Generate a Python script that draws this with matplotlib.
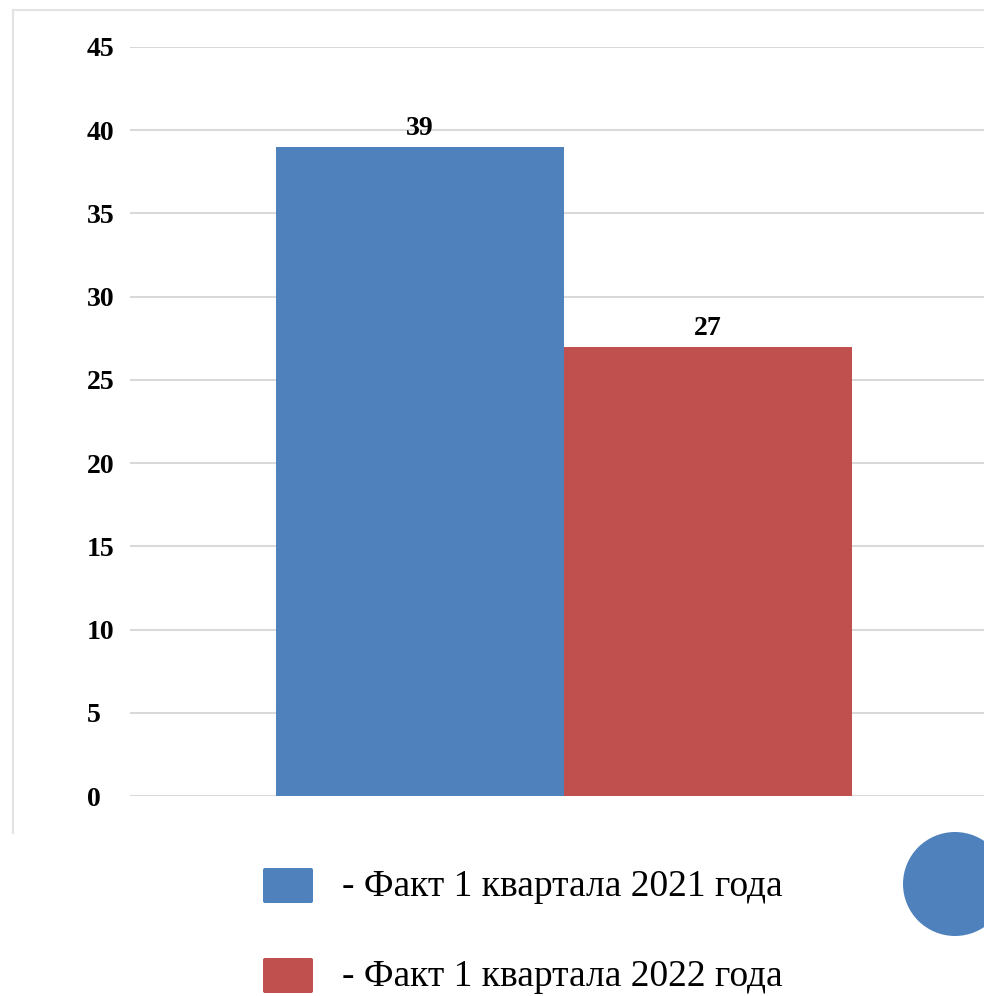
import matplotlib
matplotlib.use('Agg')
import matplotlib.pyplot as plt
from matplotlib.patches import Circle, FancyBboxPatch
from matplotlib.lines import Line2D

series = ['- Факт 1 квартала 2021 года', '- Факт 1 квартала 2022 года']
values = [39, 27]
colors = ['#4F81BD', '#C0504D']
yticks = [0, 5, 10, 15, 20, 25, 30, 35, 40, 45]

plt.rcParams['font.family'] = ['Liberation Serif', 'DejaVu Serif']

fig = plt.figure(figsize=(9.84, 9.96), dpi=100)
W, H = 984, 996

# light frame around the chart area (left and top edges)
fig.add_artist(Line2D([13 / W, 13 / W], [1 - 10 / H, 1 - 833 / H], color='#e3e3e3', lw=1.5))
fig.add_artist(Line2D([13 / W, 1], [1 - 10 / H, 1 - 10 / H], color='#e3e3e3', lw=1.5))

ax = fig.add_axes([130 / W, 1 - 796 / H, 1 - 130 / W, (796 - 47) / H])

x = [-0.5, 0.5]
bars = ax.bar(x, values, width=1.0, color=colors, zorder=3)
ax.bar_label(bars, labels=[str(v) for v in values], padding=4,
             fontsize=20, fontweight='bold')

ax.set_ylim(0, 45)
ax.set_xlim((130 - 564) / 288, (984 - 564) / 288)
ax.set_yticks(yticks)
ax.set_yticklabels([str(t) for t in yticks], fontsize=20, fontweight='bold')
for lbl in ax.get_yticklabels():
    lbl.set_horizontalalignment('left')
ax.tick_params(axis='y', length=0, pad=31)
ax.set_xticks([])
ax.grid(axis='y', color='#d9d9d9', lw=1.5, zorder=0)
for s in ax.spines.values():
    s.set_visible(False)

# legend drawn below the chart
for i, (lab, c) in enumerate(zip(series, colors)):
    top = 868 + 90 * i
    fig.add_artist(FancyBboxPatch((263 / W, 1 - (top + 35) / H), 50 / W, 35 / H,
                                  boxstyle='round,pad=0,rounding_size=0.002',
                                  facecolor=c, edgecolor='none'))
    fig.text(342 / W, 1 - (top + 19) / H, lab, fontsize=27, va='center', ha='left')

fig.add_artist(Circle((9.55, 1.12), 0.52, transform=fig.dpi_scale_trans,
                      facecolor='#4F81BD', edgecolor='none'))

fig.savefig('out.png', dpi=100)
